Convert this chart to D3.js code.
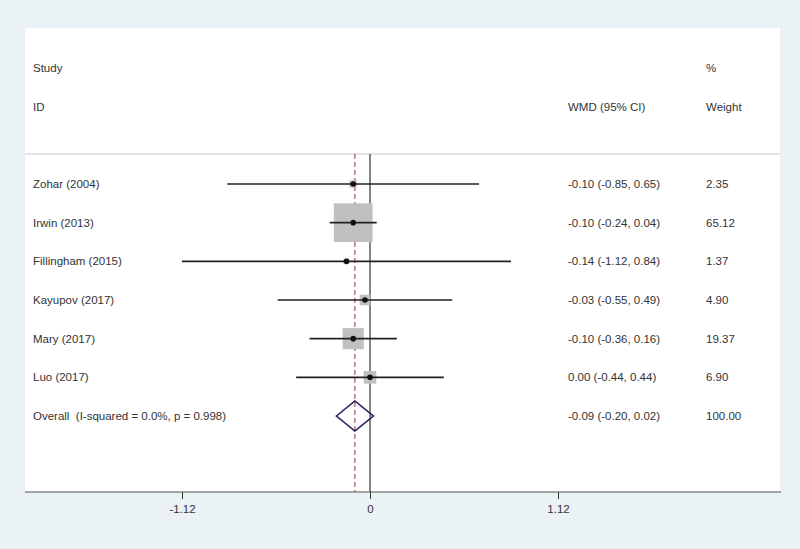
<!DOCTYPE html>
<meta charset="utf-8">
<style>
body { margin: 0; background: #eaf2f5; }
text { font-family: 'Liberation Sans', Arial, sans-serif; font-size: 11.5px; fill: #333; white-space: pre; }
</style>
<body>
<svg id="chart" width="800" height="549"></svg>
<script src="https://d3js.org/d3.v7.min.js"></script>
<script>
// study rows
var studies = ["Zohar (2004)", "Irwin (2013)", "Fillingham (2015)", "Kayupov (2017)", "Mary (2017)", "Luo (2017)"];
var est = [-0.10, -0.10, -0.14, -0.03, -0.10, 0.00];
var lower = [-0.85, -0.24, -1.12, -0.55, -0.36, -0.44];
var upper = [0.65, 0.04, 0.84, 0.49, 0.16, 0.44];
var weights = ["2.35", "65.12", "1.37", "4.90", "19.37", "6.90"];

var overallLabel = "Overall  (I-squared = 0.0%, p = 0.998)";
var overall = {est: -0.09, lo: -0.20, hi: 0.02, weight: "100.00"};

var tickVals = [-1.12, 0, 1.12];

var svg = d3.select("#chart");

// white panel
var panel = {left: 25, right: 780, top: 28, bottom: 492};
svg.append("rect")
  .attr("x", panel.left).attr("y", panel.top)
  .attr("width", panel.right - panel.left)
  .attr("height", panel.bottom - panel.top)
  .attr("fill", "#fff");

var x = d3.scaleLinear().domain([-1.12, 1.12]).range([182, 558]);
var rowNames = studies.concat([overallLabel]);
var y = d3.scalePoint().domain(d3.range(rowNames.length)).range([184, 416]);
var boxSize = d3.scaleSqrt().domain([0, 100]).range([0, 48]);

function fmt(v) { return v.toFixed(2); }

// header
var hdr = svg.append("g");
hdr.append("text").attr("x", 33).attr("y", 68).attr("dy", "0.35em").text("Study");
hdr.append("text").attr("x", 33).attr("y", 107).attr("dy", "0.35em").text("ID");
hdr.append("text").attr("x", 568).attr("y", 107).attr("dy", "0.35em").text("WMD (95% CI)");
hdr.append("text").attr("x", 706).attr("y", 68).attr("dy", "0.35em").text("%");
hdr.append("text").attr("x", 706).attr("y", 107).attr("dy", "0.35em").text("Weight");

svg.append("line")
  .attr("x1", panel.left).attr("x2", panel.right)
  .attr("y1", 154).attr("y2", 154)
  .attr("stroke", "#c8c8c8").attr("stroke-width", 1);

// reference lines
svg.append("line")
  .attr("x1", x(0)).attr("x2", x(0))
  .attr("y1", 154).attr("y2", panel.bottom)
  .attr("stroke", "#333").attr("stroke-width", 1.2);

svg.append("line")
  .attr("x1", x(overall.est)).attr("x2", x(overall.est))
  .attr("y1", 154).attr("y2", panel.bottom)
  .attr("stroke", "#9b2c3c").attr("stroke-width", 1)
  .attr("stroke-dasharray", "5,3");

// study rows
var rows = svg.selectAll(".row")
  .data(studies)
  .enter().append("g")
  .attr("class", "row");

rows.append("rect")
  .attr("x", function(d, i) { return x(est[i]) - boxSize(+weights[i]) / 2; })
  .attr("y", function(d, i) { return y(i) - boxSize(+weights[i]) / 2; })
  .attr("width", function(d, i) { return boxSize(+weights[i]); })
  .attr("height", function(d, i) { return boxSize(+weights[i]); })
  .attr("fill", "#c0c0c0");

rows.append("line")
  .attr("x1", function(d, i) { return x(lower[i]); })
  .attr("x2", function(d, i) { return x(upper[i]); })
  .attr("y1", function(d, i) { return y(i); })
  .attr("y2", function(d, i) { return y(i); })
  .attr("stroke", "#222").attr("stroke-width", 1.6);

rows.append("circle")
  .attr("cx", function(d, i) { return x(est[i]); })
  .attr("cy", function(d, i) { return y(i); })
  .attr("r", 2.8)
  .attr("fill", "#111");

rows.append("text")
  .attr("x", 33).attr("y", function(d, i) { return y(i); })
  .attr("dy", "0.35em")
  .text(function(d) { return d; });

rows.append("text")
  .attr("x", 568).attr("y", function(d, i) { return y(i); })
  .attr("dy", "0.35em")
  .text(function(d, i) {
    return fmt(est[i]) + " (" + fmt(lower[i]) + ", " + fmt(upper[i]) + ")";
  });

rows.append("text")
  .attr("x", 706).attr("y", function(d, i) { return y(i); })
  .attr("dy", "0.35em")
  .text(function(d, i) { return weights[i]; });

// overall
var oy = y(studies.length);
svg.append("path")
  .attr("d", "M" + x(overall.lo) + "," + oy +
    "L" + x(overall.est) + "," + (oy - 15) +
    "L" + x(overall.hi) + "," + oy +
    "L" + x(overall.est) + "," + (oy + 15) + "Z")
  .attr("fill", "none")
  .attr("stroke", "#1f1f5e").attr("stroke-width", 1.6);

svg.append("text").attr("x", 33).attr("y", oy).attr("dy", "0.35em").text(overallLabel);
svg.append("text").attr("x", 568).attr("y", oy).attr("dy", "0.35em")
  .text(fmt(overall.est) + " (" + fmt(overall.lo) + ", " + fmt(overall.hi) + ")");
svg.append("text").attr("x", 706).attr("y", oy).attr("dy", "0.35em").text(overall.weight);

// x axis
var axis = svg.append("g")
  .attr("transform", "translate(0," + panel.bottom + ")")
  .call(d3.axisBottom(x).tickValues(tickVals).tickSize(7).tickPadding(6)
    .tickFormat(function(d) { return d === 0 ? "0" : fmt(d); }));
axis.select(".domain").remove();
axis.selectAll(".tick line").attr("stroke", "#333");
axis.selectAll(".tick text").style("font-size", "11.5px").attr("fill", "#333");
axis.append("line")
  .attr("x1", panel.left).attr("x2", panel.right + 1)
  .attr("y1", 0).attr("y2", 0)
  .attr("stroke", "#555").attr("stroke-width", 1.2);
</script>
</body>
